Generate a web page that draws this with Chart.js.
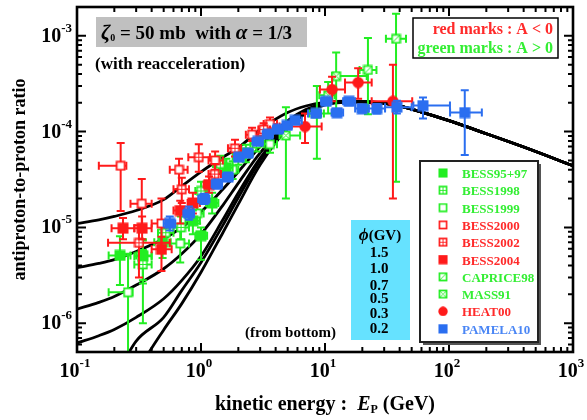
<!DOCTYPE html>
<html>
<head>
<meta charset="utf-8">
<script src="https://cdn.jsdelivr.net/npm/chart.js@4.4.0/dist/chart.umd.min.js"></script>
<style>
  body { margin: 0; background: #fff; }
  #wrap { width: 587px; height: 420px; }
</style>
</head>
<body>
<div id="wrap"><canvas id="ratioChart" width="587" height="420"></canvas></div>
<script>
// axis ranges
const xMin = 0.1, xMax = 1000;
const yMin = 5e-7, yMax = 2e-3;
const xDecades = [-1, 0, 1, 2, 3];
const yDecades = [-6, -5, -4, -3];

// model curves, phi = 1.5 ... 0.2
const curveE = [0.1, 0.15, 0.2, 0.3, 0.5, 0.7, 1, 1.5, 2, 3, 5, 7, 10, 15, 20, 35, 60, 100, 200, 400, 1000];
const phi15 = [1.1e-5, 1.2e-5, 1.3e-5, 1.5e-5, 1.95e-5, 2.7e-5, 3.8e-5, 5.4e-5, 6.8e-5, 1.05e-4, 1.58e-4, 1.85e-4, 2.02e-4, 2.08e-4, 2.07e-4, 1.92e-4, 1.6e-4, 1.3e-4, 9.5e-5, 6.9e-5, 4.4e-5];
const phi10 = [3.8e-6, 4.2e-6, 4.6e-6, 5.6e-6, 7.6e-6, 1.0e-5, 1.45e-5, 2.5e-5, 3.8e-5, 7.0e-5, 1.3e-4, 1.7e-4, 1.98e-4, 2.07e-4, 2.06e-4, 1.92e-4, 1.6e-4, 1.3e-4, 9.5e-5, 6.9e-5, 4.4e-5];
const phi07 = [1.4e-6, 1.65e-6, 1.9e-6, 2.5e-6, 3.7e-6, 5.3e-6, 8.5e-6, 1.7e-5, 2.9e-5, 6.0e-5, 1.22e-4, 1.65e-4, 1.95e-4, 2.06e-4, 2.05e-4, 1.92e-4, 1.6e-4, 1.3e-4, 9.5e-5, 6.9e-5, 4.4e-5];
const phi05 = [6.2e-7, 7.4e-7, 8.6e-7, 1.15e-6, 1.8e-6, 2.8e-6, 5.0e-6, 1.2e-5, 2.3e-5, 5.3e-5, 1.17e-4, 1.62e-4, 1.93e-4, 2.05e-4, 2.05e-4, 1.92e-4, 1.6e-4, 1.3e-4, 9.5e-5, 6.9e-5, 4.4e-5];
const phi03 = [null, null, 2.6e-7, 6.5e-7, 1.15e-6, 2.2e-6, 4.3e-6, 1.05e-5, 2.05e-5, 5.0e-5, 1.13e-4, 1.6e-4, 1.92e-4, 2.04e-4, 2.04e-4, 1.92e-4, 1.6e-4, 1.3e-4, 9.5e-5, 6.9e-5, 4.4e-5];
const phi02 = [null, null, 1.1e-7, 3.0e-7, 8.5e-7, 1.6e-6, 3.4e-6, 8.8e-6, 1.75e-5, 4.5e-5, 1.08e-4, 1.55e-4, 1.9e-4, 2.03e-4, 2.04e-4, 1.92e-4, 1.6e-4, 1.3e-4, 9.5e-5, 6.9e-5, 4.4e-5];
const phiLabels = ['1.5', '1.0', '0.7', '0.5', '0.3', '0.2'];

// measurements: [E, ratio, ratioLow, ratioHigh, Elow, Ehigh]
const bess9597 = [
  [0.222, 5.1e-6, 2.5e-6, 8.1e-6, 0.18, 0.27],
  [0.34, 5.0e-6, 2.6e-6, 7.5e-6, 0.29, 0.4],
  [0.49, 7.0e-6, 4.8e-6, 9.5e-6, 0.42, 0.57],
  [0.86, 1.17e-5, 8.5e-6, 1.5e-5, 0.75, 0.98],
  [1.0, 8.2e-6, 4.6e-6, 1.0e-5, 0.9, 1.12],
  [1.23, 1.8e-5, 1.4e-5, 2.3e-5, 1.1, 1.38],
  [1.6, 4.2e-5, 3.3e-5, 5.2e-5, 1.4, 1.8],
  [2.3, 6.0e-5, 4.8e-5, 7.3e-5, 2.0, 2.6]
];
const bess1998 = [
  [0.34, 4.1e-6, 2.8e-6, 5.8e-6, 0.29, 0.4],
  [0.52, 8.8e-6, 6.8e-6, 1.1e-5, 0.45, 0.6],
  [0.69, 1.0e-5, 7.5e-6, 1.3e-5, 0.6, 0.8],
  [1.0, 2.4e-5, 1.9e-5, 3.0e-5, 0.9, 1.12],
  [1.43, 4.6e-5, 3.7e-5, 5.6e-5, 1.25, 1.6],
  [2.0, 5.5e-5, 4.5e-5, 6.7e-5, 1.8, 2.25],
  [2.8, 7.5e-5, 6.2e-5, 9.0e-5, 2.5, 3.2]
];
const bess1999 = [
  [0.258, 2.1e-6, 4.0e-7, 5.3e-6, 0.18, 0.28],
  [0.34, 5.1e-6, 1.0e-6, 7.3e-6, 0.3, 0.4],
  [0.68, 6.8e-6, 4.3e-6, 9.6e-6, 0.56, 0.8],
  [0.93, 1.4e-5, 1.1e-5, 1.8e-5, 0.8, 1.05],
  [1.8, 4.0e-5, 3.2e-5, 4.9e-5, 1.6, 2.0],
  [3.6, 7.4e-5, 6.0e-5, 9.0e-5, 3.2, 4.1]
];
const bess2000 = [
  [0.225, 4.4e-5, 1.48e-5, 7.6e-5, 0.15, 0.25],
  [0.333, 1.77e-5, 1.0e-5, 3.2e-5, 0.27, 0.4],
  [0.48, 1.1e-5, 6.0e-6, 2.0e-5, 0.4, 0.58],
  [0.665, 4.0e-5, 2.5e-5, 5.2e-5, 0.56, 0.78],
  [1.3, 5.0e-5, 4.0e-5, 6.2e-5, 1.15, 1.5],
  [2.58, 9.3e-5, 8.0e-5, 1.1e-4, 2.3, 2.9],
  [3.6, 1.2e-4, 1.05e-4, 1.4e-4, 3.2, 4.1]
];
const bess2002 = [
  [0.316, 6.9e-6, 3.0e-6, 1.05e-5, 0.178, 0.56],
  [0.70, 2.5e-5, 1.8e-5, 3.3e-5, 0.6, 0.8],
  [0.96, 5.4e-5, 3.8e-5, 7.4e-5, 0.79, 1.18],
  [1.29, 3.6e-5, 2.8e-5, 4.6e-5, 1.15, 1.45],
  [1.88, 6.7e-5, 5.5e-5, 8.2e-5, 1.65, 2.1],
  [3.2, 1.05e-4, 9.0e-5, 1.22e-4, 2.9, 3.6]
];
const bess2004 = [
  [0.235, 9.8e-6, 7.5e-6, 1.25e-5, 0.19, 0.29],
  [0.335, 9.8e-6, 7.5e-6, 1.3e-5, 0.29, 0.4],
  [0.48, 5.9e-6, 3.5e-6, 8.0e-6, 0.4, 0.58],
  [0.68, 1.5e-5, 1.1e-5, 1.9e-5, 0.6, 0.78],
  [0.86, 1.8e-5, 1.4e-5, 2.3e-5, 0.78, 0.98],
  [1.16, 2.8e-5, 2.3e-5, 3.4e-5, 1.05, 1.3]
];
const caprice98 = [
  [8.6, 1.55e-4, 5.2e-5, 3.0e-4, 7.5, 9.8],
  [22.2, 4.4e-4, 1.52e-4, 9.5e-4, 19, 26],
  [37.4, 9.3e-4, 3.0e-5, 1.7e-3, 31, 45]
];
const mass91 = [
  [4.84, 9.1e-5, 2.0e-5, 1.8e-4, 4.3, 6.3],
  [10.6, 2.4e-4, 1.55e-4, 3.3e-4, 9.0, 12.0],
  [12.3, 3.8e-4, 1.52e-4, 6.7e-4, 11.4, 21.7]
];
const heat00 = [
  [6.9, 1.13e-4, 7.6e-5, 1.55e-4, 4.3, 9.4],
  [11.4, 2.75e-4, 2.07e-4, 3.75e-4, 9.1, 14.5],
  [18.5, 3.25e-4, 2.2e-4, 4.6e-4, 14.5, 23.8],
  [35.3, 2.07e-4, 2.0e-5, 5.0e-4, 23.8, 50.5]
];
const pamela10 = [
  [0.56, 1.1e-5, 9.3e-6, 1.3e-5, 0.5, 0.62],
  [0.8, 1.4e-5, 1.2e-5, 1.65e-5, 0.72, 0.88],
  [1.06, 1.98e-5, 1.75e-5, 2.25e-5, 0.95, 1.17],
  [1.35, 2.84e-5, 2.55e-5, 3.15e-5, 1.22, 1.48],
  [1.65, 3.35e-5, 3.05e-5, 3.7e-5, 1.5, 1.8],
  [2.02, 5.4e-5, 4.95e-5, 5.9e-5, 1.85, 2.2],
  [2.39, 5.95e-5, 5.5e-5, 6.45e-5, 2.2, 2.6],
  [2.88, 7.9e-5, 7.3e-5, 8.5e-5, 2.6, 3.15],
  [3.47, 9.4e-5, 8.7e-5, 1.01e-4, 3.15, 3.8],
  [4.18, 1.06e-4, 9.8e-5, 1.14e-4, 3.8, 4.6],
  [4.94, 1.16e-4, 1.07e-4, 1.25e-4, 4.6, 5.4],
  [5.73, 1.31e-4, 1.21e-4, 1.41e-4, 5.4, 6.5],
  [8.45, 1.55e-4, 1.42e-4, 1.68e-4, 7.3, 9.3],
  [10.2, 2.07e-4, 1.9e-4, 2.25e-4, 9.3, 11.3],
  [12.5, 1.58e-4, 1.44e-4, 1.72e-4, 11.3, 14.0],
  [15.6, 2.07e-4, 1.88e-4, 2.26e-4, 14.0, 17.5],
  [19.9, 1.74e-4, 1.57e-4, 1.91e-4, 17.5, 22.5],
  [26.2, 1.74e-4, 1.55e-4, 1.94e-4, 22.5, 30.5],
  [38, 1.8e-4, 1.55e-4, 2.1e-4, 30.5, 50],
  [61.7, 1.87e-4, 1.37e-4, 2.27e-4, 51.6, 101.8],
  [134, 1.58e-4, 5.7e-5, 2.7e-4, 102, 184]
];

const GREEN = '#22ee22', RED = '#ff1a1a', BLUE = '#2a6ef0';
const SERIF = '"Liberation Serif", "Times New Roman", serif';

// petits marqueurs dessinés à la main
function makeMarker(kind, color) {
  const s = (kind === 'fill' || kind === 'circle') ? 12 : 11;
  const c = document.createElement('canvas');
  c.width = s; c.height = s;
  const g = c.getContext('2d');
  if (kind === 'circle') {
    g.fillStyle = color;
    g.beginPath(); g.arc(s / 2, s / 2, s / 2 - 0.3, 0, Math.PI * 2); g.fill();
  } else if (kind === 'fill') {
    g.fillStyle = color;
    g.fillRect(0.5, 0.5, s - 1, s - 1);
  } else {
    g.fillStyle = '#fff';
    g.fillRect(1, 1, s - 2, s - 2);
    g.strokeStyle = color; g.lineWidth = 1.8;
    g.strokeRect(1.5, 1.5, s - 3, s - 3);
    g.beginPath();
    if (kind === 'cross') {
      g.moveTo(s / 2, 1.5); g.lineTo(s / 2, s - 1.5);
      g.moveTo(1.5, s / 2); g.lineTo(s - 1.5, s / 2);
    }
    if (kind === 'slash' || kind === 'x') {
      g.moveTo(2, s - 2); g.lineTo(s - 2, 2);
    }
    if (kind === 'x') {
      g.moveTo(2, 2); g.lineTo(s - 2, s - 2);
    }
    g.lineWidth = 1; g.stroke();
  }
  return c;
}

const series = [
  { label: 'BESS95+97', rows: bess9597, kind: 'fill', color: GREEN, text: '#33ee33', order: 6 },
  { label: 'BESS1998', rows: bess1998, kind: 'cross', color: GREEN, text: '#33ee33', order: 5 },
  { label: 'BESS1999', rows: bess1999, kind: 'open', color: GREEN, text: '#33ee33', order: 7 },
  { label: 'BESS2000', rows: bess2000, kind: 'open', color: RED, text: '#ff2a2a', order: 4 },
  { label: 'BESS2002', rows: bess2002, kind: 'cross', color: RED, text: '#ff2a2a', order: 3 },
  { label: 'BESS2004', rows: bess2004, kind: 'fill', color: RED, text: '#ff2a2a', order: 2 },
  { label: 'CAPRICE98', rows: caprice98, kind: 'slash', color: GREEN, text: '#33ee33', order: 8 },
  { label: 'MASS91', rows: mass91, kind: 'x', color: GREEN, text: '#33ee33', order: 8 },
  { label: 'HEAT00', rows: heat00, kind: 'circle', color: RED, text: '#ff2a2a', order: 1 },
  { label: 'PAMELA10', rows: pamela10, kind: 'fill', color: BLUE, text: '#4a86f5', order: 0 }
];
series.forEach(s => { s.marker = makeMarker(s.kind, s.color); });

const curveSets = [phi15, phi10, phi07, phi05, phi03, phi02].map(vals => ({
  data: curveE.map((e, i) => ({ x: e, y: vals[i] })).filter(p => p.y !== null),
  showLine: true,
  borderColor: '#000',
  borderWidth: 2.8,
  pointRadius: 0,
  cubicInterpolationMode: 'monotone',
  order: 20
}));

const pointSets = series.map(s => ({
  label: s.label,
  data: s.rows.map(r => ({ x: r[0], y: r[1] })),
  rows: s.rows,
  errColor: s.color,
  pointStyle: s.marker,
  pointRadius: 6,
  borderColor: s.color,
  backgroundColor: s.color,
  showLine: false,
  order: s.order
}));

// barres d'erreur, dessinées juste avant les marqueurs du jeu
const errorBars = {
  id: 'errorBars',
  beforeDatasetDraw(chart, args) {
    const ds = chart.data.datasets[args.index];
    if (!ds.rows) return;
    const ctx = chart.ctx, a = chart.chartArea;
    const xs = chart.scales.x, ys = chart.scales.y;
    ctx.save();
    ctx.beginPath(); ctx.rect(a.left, a.top, a.right - a.left, a.bottom - a.top); ctx.clip();
    ctx.strokeStyle = ds.errColor; ctx.lineWidth = 2;
    ds.rows.forEach(r => {
      const px = xs.getPixelForValue(r[0]), py = ys.getPixelForValue(r[1]);
      const yl = ys.getPixelForValue(r[2]), yh = ys.getPixelForValue(r[3]);
      const xl = xs.getPixelForValue(r[4]), xh = xs.getPixelForValue(r[5]);
      ctx.beginPath();
      ctx.moveTo(px, yl); ctx.lineTo(px, yh);
      ctx.moveTo(px - 4, yl); ctx.lineTo(px + 4, yl);
      ctx.moveTo(px - 4, yh); ctx.lineTo(px + 4, yh);
      ctx.moveTo(xl, py); ctx.lineTo(xh, py);
      ctx.moveTo(xl, py - 4); ctx.lineTo(xl, py + 4);
      ctx.moveTo(xh, py - 4); ctx.lineTo(xh, py + 4);
      ctx.stroke();
    });
    ctx.restore();
  }
};

function drawPow(ctx, exp, x, y, align) {
  ctx.font = 'bold 20px ' + SERIF;
  const w1 = ctx.measureText('10').width;
  ctx.font = 'bold 13px ' + SERIF;
  const w2 = ctx.measureText(exp).width;
  let x0 = align === 'right' ? x - w1 - w2 : x - (w1 + w2) / 2;
  ctx.textAlign = 'left';
  ctx.font = 'bold 20px ' + SERIF;
  ctx.fillText('10', x0, y);
  ctx.font = 'bold 13px ' + SERIF;
  ctx.fillText(exp, x0 + w1, y - 10);
}

// écrit une suite de morceaux de texte avec des polices différentes
function drawRuns(ctx, runs, x, y, align) {
  let total = 0;
  runs.forEach(r => { ctx.font = r.font; total += ctx.measureText(r.t).width; });
  let cx = align === 'center' ? x - total / 2 : (align === 'right' ? x - total : x);
  ctx.textAlign = 'left';
  runs.forEach(r => {
    ctx.font = r.font;
    ctx.fillText(r.t, cx, y + (r.dy || 0));
    cx += ctx.measureText(r.t).width;
  });
}

const decorations = {
  id: 'decorations',
  afterDraw(chart) {
    const ctx = chart.ctx, a = chart.chartArea;
    const xs = chart.scales.x, ys = chart.scales.y;
    ctx.save();
    ctx.fillStyle = '#000'; ctx.strokeStyle = '#000';

    // graduations vers l'intérieur sur les quatre côtés
    ctx.lineWidth = 2;
    ctx.beginPath();
    xDecades.forEach(d => {
      for (let m = 1; m <= 9; m++) {
        const v = m * Math.pow(10, d);
        if (v < xMin * 0.999 || v > xMax * 1.001) continue;
        const px = xs.getPixelForValue(v), len = m === 1 ? 9 : 5;
        ctx.moveTo(px, a.bottom); ctx.lineTo(px, a.bottom - len);
        ctx.moveTo(px, a.top); ctx.lineTo(px, a.top + len);
      }
    });
    [-7].concat(yDecades).forEach(d => {
      for (let m = 1; m <= 9; m++) {
        const v = m * Math.pow(10, d);
        if (v < yMin * 0.999 || v > yMax * 1.001) continue;
        const py = ys.getPixelForValue(v), len = m === 1 ? 9 : 5;
        ctx.moveTo(a.left, py); ctx.lineTo(a.left + len, py);
        ctx.moveTo(a.right, py); ctx.lineTo(a.right - len, py);
      }
    });
    ctx.stroke();
    ctx.lineWidth = 2.6;
    ctx.strokeRect(a.left, a.top, a.right - a.left, a.bottom - a.top);

    // étiquettes des axes
    ctx.textBaseline = 'alphabetic';
    xDecades.forEach(d => {
      drawPow(ctx, String(d), xs.getPixelForValue(Math.pow(10, d)) - 2, a.bottom + 25, 'center');
    });
    yDecades.forEach(d => {
      drawPow(ctx, String(d), a.left - 5, ys.getPixelForValue(Math.pow(10, d)) + 6, 'right');
    });

    // titres des axes
    const b20 = 'bold 20px ' + SERIF;
    drawRuns(ctx, [
      { t: 'kinetic energy :  ', font: b20 },
      { t: 'E', font: 'italic bold 20px ' + SERIF },
      { t: 'P', font: 'bold 12px ' + SERIF, dy: 3 },
      { t: ' (GeV)', font: b20 }
    ], 325, 410, 'center');
    ctx.save();
    ctx.translate(25, (a.top + a.bottom) / 2);
    ctx.rotate(-Math.PI / 2);
    ctx.font = 'bold 18px ' + SERIF; ctx.textAlign = 'center';
    ctx.fillText('antiproton-to-proton ratio', 0, 0);
    ctx.restore();

    // encadré gris du modèle
    ctx.fillStyle = '#c0c0c0';
    ctx.fillRect(96, 17, 211, 30);
    ctx.fillStyle = '#000';
    drawRuns(ctx, [
      { t: 'ζ', font: 'italic bold 21px ' + SERIF },
      { t: '0', font: 'bold 10px ' + SERIF, dy: 2 },
      { t: ' = 50 mb  with ', font: 'bold 19px ' + SERIF },
      { t: 'α', font: 'italic bold 21px ' + SERIF },
      { t: ' = 1/3', font: 'bold 19px ' + SERIF }
    ], 101, 39, 'left');
    ctx.font = 'bold 17px ' + SERIF; ctx.textAlign = 'left';
    ctx.fillText('(with reacceleration)', 95, 69);
    ctx.font = 'bold 15px ' + SERIF;
    ctx.fillText('(from bottom)', 245, 337);

    // encadré rouge / vert
    ctx.lineWidth = 1.5;
    ctx.strokeRect(413, 18, 145, 40);
    ctx.font = 'bold 16px ' + SERIF; ctx.textAlign = 'right';
    ctx.fillStyle = '#ff2a2a';
    ctx.fillText('red marks : A < 0', 553, 34);
    ctx.fillStyle = '#33ee33';
    ctx.fillText('green marks : A > 0', 553, 53);

    // encadré cyan des valeurs de phi
    ctx.fillStyle = '#66e2ff';
    ctx.fillRect(351, 220, 59, 120);
    ctx.fillStyle = '#000';
    drawRuns(ctx, [
      { t: 'ϕ', font: 'italic bold 17px ' + SERIF },
      { t: '(GV)', font: 'bold 15px ' + SERIF }
    ], 380, 240, 'center');
    ctx.font = 'bold 15px ' + SERIF; ctx.textAlign = 'center';
    const phiY = [257, 273, 290, 303, 318, 333];
    phiLabels.forEach((t, i) => ctx.fillText(t, 379, phiY[i]));

    // légende
    ctx.fillStyle = '#555';
    ctx.fillRect(423, 164, 118, 181);
    ctx.fillStyle = '#fff';
    ctx.fillRect(420, 161, 118, 181);
    ctx.lineWidth = 2; ctx.strokeStyle = '#222';
    ctx.strokeRect(420, 161, 118, 181);
    ctx.font = 'bold 13px ' + SERIF; ctx.textAlign = 'left';
    series.forEach((s, i) => {
      const cy = 173 + i * 17.3;
      ctx.drawImage(s.marker, 438, cy - 5, 10, 10);
      ctx.fillStyle = s.text;
      ctx.fillText(s.label, 462, cy + 5);
    });
    ctx.restore();
  }
};

new Chart(document.getElementById('ratioChart'), {
  type: 'scatter',
  data: { datasets: curveSets.concat(pointSets) },
  options: {
    responsive: false,
    animation: false,
    devicePixelRatio: 1,
    layout: { padding: { left: 77, right: 14, top: 5, bottom: 68 } },
    plugins: { legend: { display: false }, tooltip: { enabled: false } },
    scales: {
      x: { type: 'logarithmic', min: xMin, max: xMax, display: false },
      y: { type: 'logarithmic', min: yMin, max: yMax, display: false }
    }
  },
  plugins: [errorBars, decorations]
});
</script>
</body>
</html>
